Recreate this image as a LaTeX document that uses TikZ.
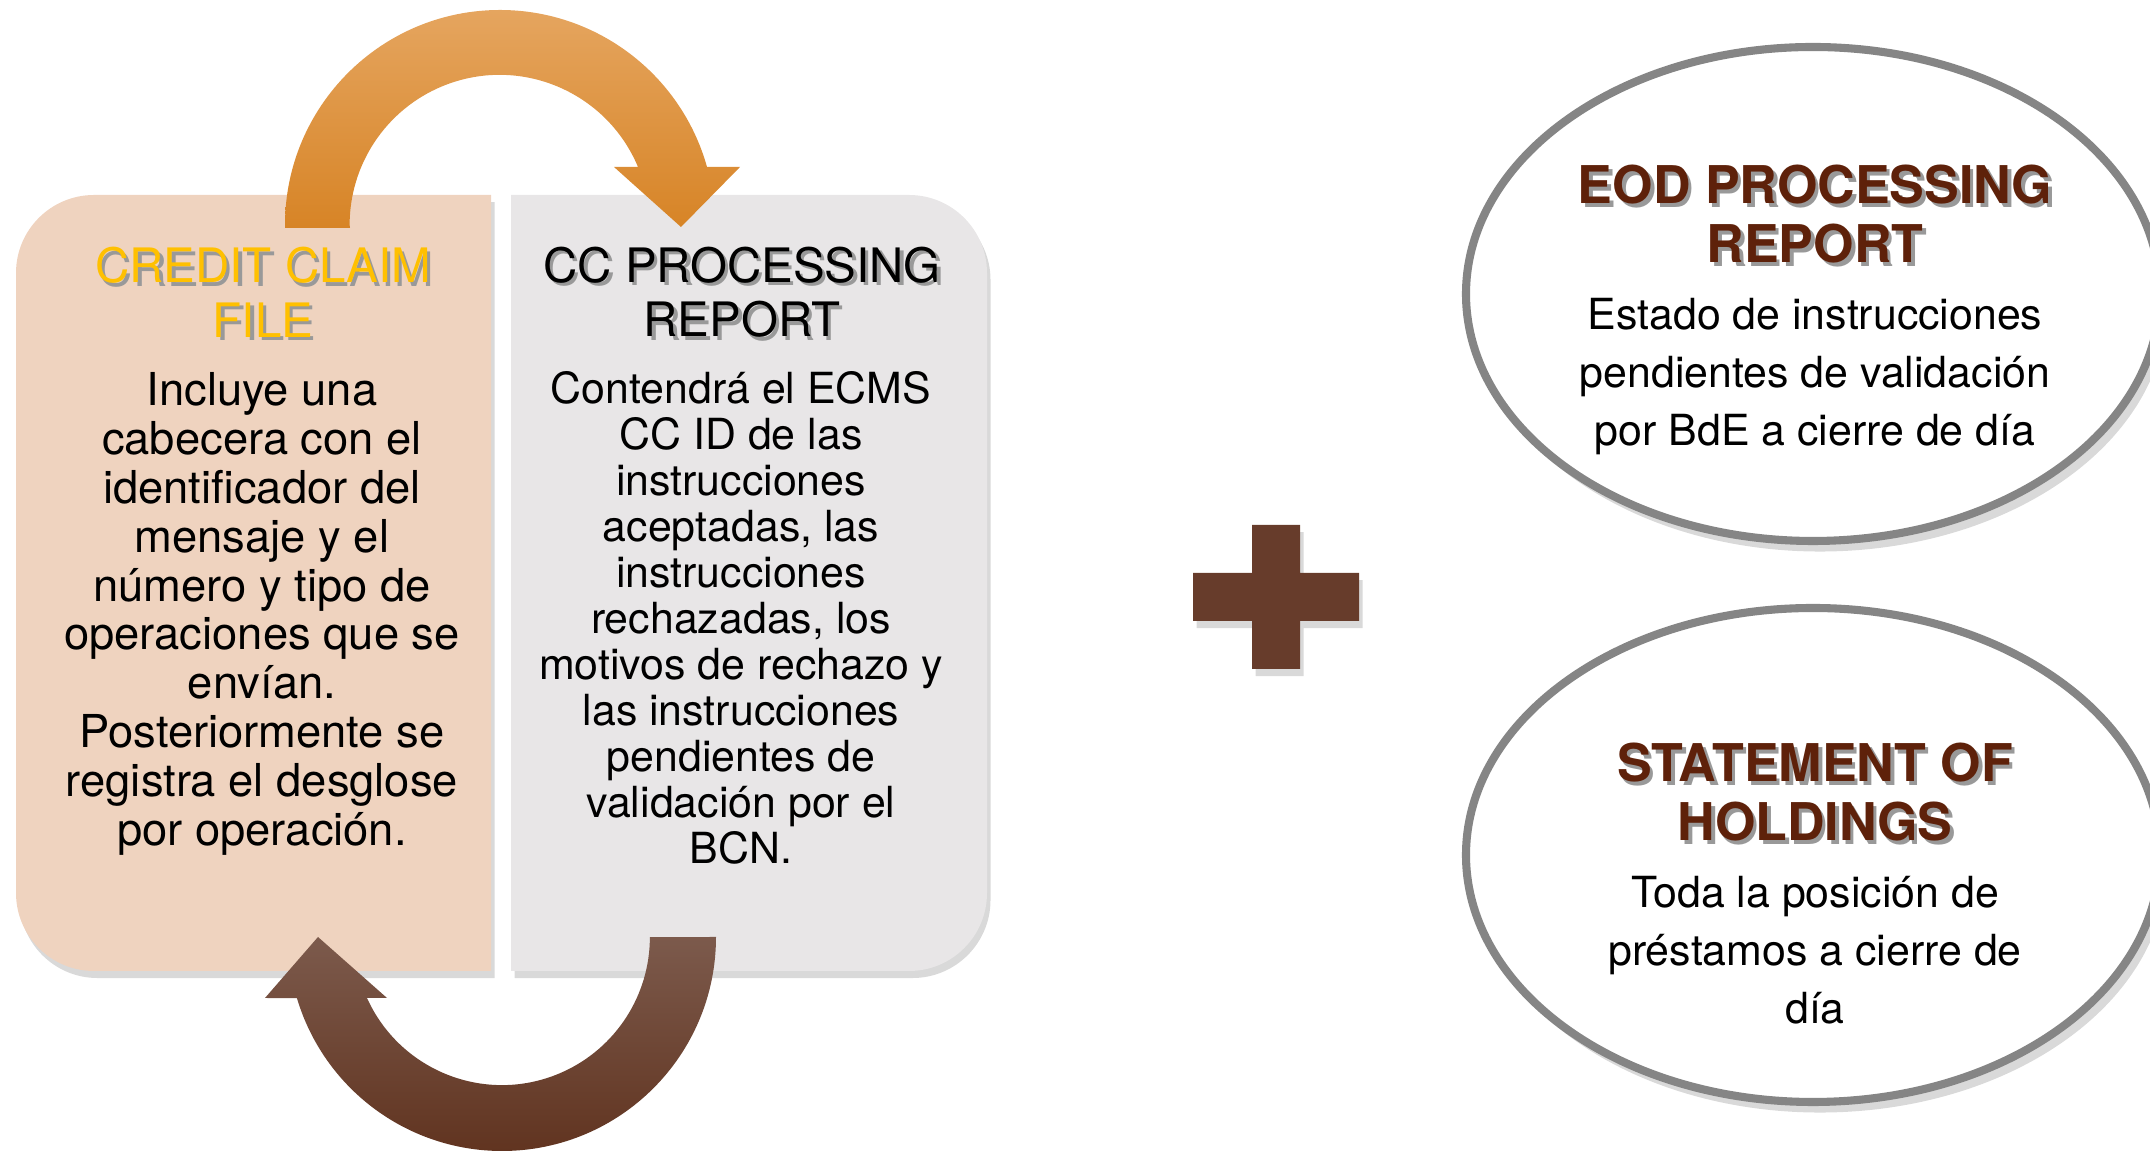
\documentclass[tikz,border=0pt]{standalone}
\usepackage{fontspec}
\setmainfont{TeX Gyre Heros}
\usetikzlibrary{shapes.geometric,shadows}
\definecolor{peach}{RGB}{239,211,191}
\definecolor{paleg}{RGB}{232,230,231}
\definecolor{gold}{RGB}{255,192,0}
\definecolor{darkbrown}{RGB}{94,33,10}
\definecolor{crossbrown}{RGB}{103,60,43}
\definecolor{rimgrey}{RGB}{133,133,133}
\definecolor{orangetop}{RGB}{229,165,95}
\definecolor{orangebot}{RGB}{215,132,38}
\definecolor{browntop}{RGB}{124,90,76}
\definecolor{brownbot}{RGB}{97,52,32}
\newcommand{\shd}[1]{\leavevmode\rlap{\kern1pt\raisebox{-1pt}{\textcolor{black!40}{#1}}}#1}

\begin{document}
\begin{tikzpicture}
\tikzstyle{title} = [align=center,inner sep=0pt,font=\fontsize{13.5}{15.4}\selectfont];
\tikzstyle{body} = [align=center,inner sep=0pt,font=\fontsize{12.9}{13.9}\selectfont];
\tikzstyle{rbody} = [align=center,inner sep=0pt,font=\fontsize{12.2}{13.1}\selectfont];
\tikzstyle{otitle} = [align=center,inner sep=0pt,text=darkbrown,font=\bfseries\fontsize{14.8}{16.8}\selectfont];
\tikzstyle{obody} = [align=center,inner sep=0pt,font=\fontsize{12.2}{16.5}\selectfont];
\tikzstyle{ring}=[ellipse,draw=rimgrey,line width=2.3pt,fill=white,minimum width=6.94cm,minimum height=4.94cm,inner sep=0pt,drop shadow={opacity=0.3,shadow xshift=2pt,shadow yshift=-3pt}];
\tikzstyle{shd}=[drop shadow={opacity=0.3,shadow xshift=1pt,shadow yshift=-2pt}];
\useasboundingbox (0,0) rectangle (21.5,11.55);

% the two boxes
\fill [peach,shd] (4.91,1.84) -- (0.94,1.84) arc [start angle=270,end angle=180,radius=0.78] -- (0.16,8.82) arc [start angle=180,end angle=90,radius=0.78] -- (4.91,9.60) -- cycle;
\fill [paleg,shd] (5.11,9.60) -- (9.09,9.60) arc [start angle=90,end angle=0,radius=0.78] -- (9.87,2.62) arc [start angle=0,end angle=-90,radius=0.78] -- (5.11,1.84) -- cycle;

\node [title,text=gold] (ccf) at (2.63,8.61) {\shd{CREDIT CLAIM}\\\shd{FILE}};
\node [body] (ccfb) at (2.62,5.41) {Incluye una\\cabecera con el\\identificador del\\mensaje y el\\número y tipo de\\operaciones que se\\envían.\\Posteriormente se\\registra el desglose\\por operación.};

\node [title] (ccr) at (7.42,8.61) {\shd{CC PROCESSING}\\\shd{REPORT}};
\node [rbody] (ccrb) at (7.41,5.37) {Contendrá el ECMS\\CC ID de las\\instrucciones\\aceptadas, las\\instrucciones\\rechazadas, los\\motivos de rechazo y\\las instrucciones\\pendientes de\\validación por el\\BCN.};

% curved arrows
\shade [top color=orangetop,bottom color=orangebot] (2.85,9.27) -- (2.85,9.30) arc [start angle=180,end angle=15.7,radius=2.15] -- (7.40,9.88) -- (6.81,9.28) -- (6.14,9.88) -- (6.38,9.88) arc [start angle=22.7,end angle=180,radius=1.5] -- (3.50,9.27) -- cycle;
\shade [top color=browntop,bottom color=brownbot] (7.16,2.18) arc [start angle=0,end angle=-163.4,radius=2.14] -- (2.65,1.57) -- (3.18,2.18) -- (3.87,1.57) -- (3.67,1.57) arc [start angle=-155.7,end angle=0,radius=1.48] -- cycle;

% plus
\fill [crossbrown,shd] (12.52,6.30) -- (13.00,6.30) -- (13.00,5.82) -- (13.59,5.82) -- (13.59,5.34) -- (13.00,5.34) -- (13.00,4.86) -- (12.52,4.86) -- (12.52,5.34) -- (11.93,5.34) -- (11.93,5.82) -- (12.52,5.82) -- cycle;

% right ovals
\node [ring] (eod) at (18.13,8.61) {};
\node [otitle] (eodt) at (18.15,9.39) {\shd{EOD PROCESSING}\\\shd{REPORT}};
\node [obody] (eodb) at (18.15,7.785) {Estado de instrucciones\\pendientes de validación\\por BdE a cierre de día};

\node [ring] (soh) at (18.13,3.00) {};
\node [otitle] (soht) at (18.15,3.61) {\shd{STATEMENT OF}\\\shd{HOLDINGS}};
\node [obody] (sohb) at (18.15,2.045) {Toda la posición de\\préstamos a cierre de\\día};
\end{tikzpicture}
\end{document}
